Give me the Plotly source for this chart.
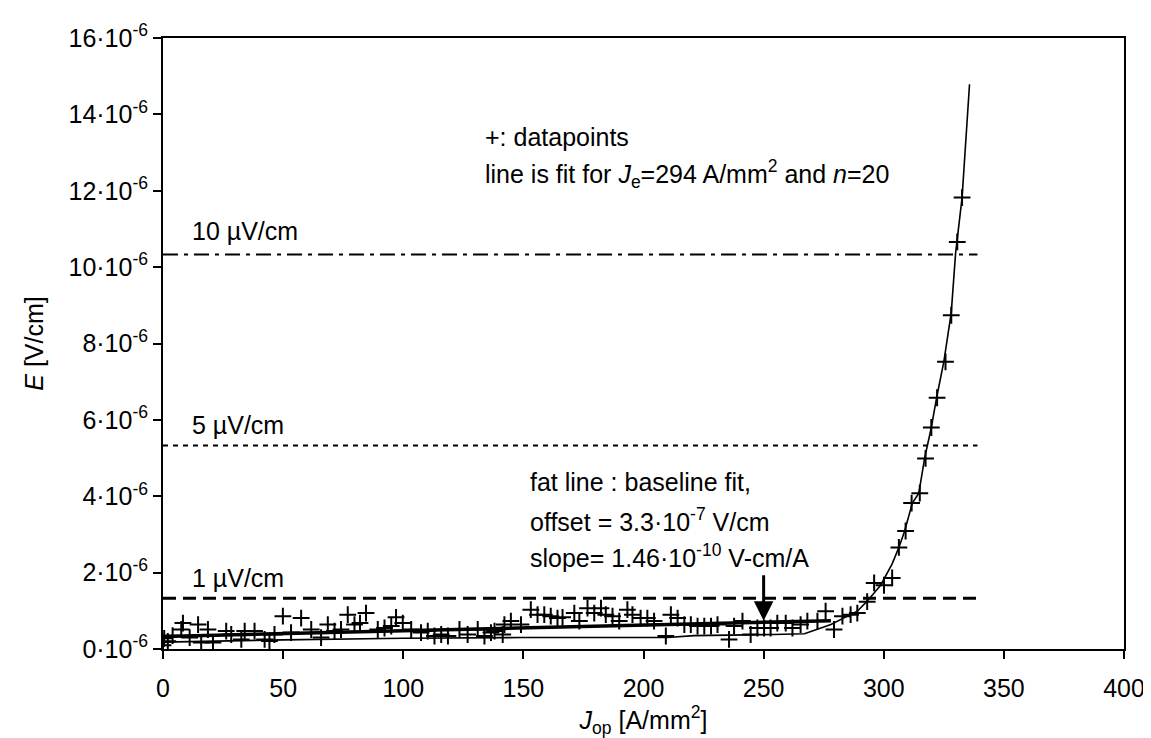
import plotly.graph_objects as go

# ---------------- data (E in units of 1e-6 V/cm, J in A/mm^2) ----------------
data_J = [0, 0.5, 2, 4, 7.6, 8.3, 11.1, 14.6, 15.9, 18.7, 20.8, 26.3, 28.4, 32.6, 34, 38.1,
          42.3, 44.3, 46.4, 49.9, 53.3, 57.5, 61.7, 65.8, 68.6, 71.4, 74.1, 76.9, 79.7, 82,
          84.5, 89.4, 92.2, 95.0, 97.0, 99.8, 103.3, 107.4, 110.2, 113, 115.8, 118.6, 123.4,
          126.8, 131, 133.8, 136.5, 138, 141.4, 142.1, 144.8, 149, 153.1, 155.9, 158.7, 161.4,
          164.2, 166.3, 171.2, 173.3, 176.7, 179.5, 182.3, 184.3, 187.1, 189.9, 193.3, 195.4,
          198.8, 201.6, 204.4, 209.3, 211.4, 214.2, 217, 219.7, 222.5, 225.3, 228.1, 230.8,
          235.6, 237.7, 241.2, 244.6, 247.4, 250.2, 252.9, 255.7, 259.2, 262, 265.4, 268.2,
          272.4, 275.8, 279.3, 282.8, 286.2, 289.0, 293.1, 296.0, 300.1, 303.5, 306.3, 309.1,
          311.6, 315.0, 317.4, 319.8, 322.2, 325.7, 328.1, 330.6, 332.6]
data_E = [0.10, 0.28, 0.20, 0.35, 0.51, 0.68, 0.30, 0.64, 0.17, 0.51, 0.17, 0.47, 0.38, 0.25, 0.47, 0.47,
          0.25, 0.21, 0.38, 0.86, 0.43, 0.81, 0.51, 0.30, 0.64, 0.47, 0.51, 0.90, 0.64, 0.68,
          0.94, 0.51, 0.55, 0.60, 0.83, 0.68, 0.51, 0.43, 0.47, 0.34, 0.38, 0.34, 0.51,
          0.38, 0.51, 0.34, 0.43, 0.47, 0.38, 0.64, 0.73, 0.64, 1.03, 0.90, 0.90, 0.86,
          0.81, 0.83, 0.94, 0.73, 1.07, 0.94, 1.07, 0.90, 0.86, 0.73, 1.03, 0.90,
          0.81, 0.81, 0.73, 0.34, 0.90, 0.81, 0.64, 0.64, 0.60, 0.60, 0.60, 0.64,
          0.25, 0.60, 0.73, 0.38, 0.55, 0.55, 0.55, 0.68, 0.68, 0.55, 0.64, 0.73,
          0.73, 0.99, 0.51, 0.86, 0.90, 0.94, 1.24, 1.73, 1.67, 1.86, 2.66, 3.09,
          3.82, 4.08, 4.99, 5.80, 6.58, 7.52, 8.74, 10.66, 11.82]

fit_J = [0, 50, 100, 150, 210, 221, 254, 267, 278, 282, 289, 292.9, 298.7, 303.5, 306.3, 308.7,
         311.9, 314.6, 317.0, 319.8, 322.0, 325.0, 328.1, 329.9, 332.6, 335.7]
fit_E = [0.18, 0.24, 0.28, 0.30, 0.30, 0.35, 0.38, 0.40, 0.64, 0.77, 0.99, 1.24, 1.67, 2.23, 2.66, 3.09,
         3.82, 4.08, 4.99, 5.80, 6.58, 7.52, 8.81, 10.36, 11.82, 14.79]

base_J = [0, 278]
base_E = [0.33, 0.74]

crit_J = [0, 339]
crit_levels = [1.33, 5.33, 10.33]
crit_labels = ["1 µV/cm", "5 µV/cm", "10 µV/cm"]

x_ticks = [0, 50, 100, 150, 200, 250, 300, 350, 400]
y_ticks = [0, 2, 4, 6, 8, 10, 12, 14, 16]
y_ticktext = [f"{v}·10<sup>-6</sup>" for v in y_ticks]

arrow_J = 250
arrow_from = 1.97
arrow_to = 0.74

FONT = "Liberation Sans, Arial, sans-serif"
FS = 25

fig = go.Figure()

# criterion lines
crit_styles = [("13px,7px", 3), ("5px,5px", 2), ("15px,6px,4px,6px", 2)]
for lvl, (dash, w) in zip(crit_levels, crit_styles):
    fig.add_trace(go.Scatter(x=crit_J, y=[lvl, lvl], mode="lines",
                             line=dict(color="black", width=w, dash=dash),
                             showlegend=False, hoverinfo="skip"))

# fit line
fig.add_trace(go.Scatter(x=fit_J, y=fit_E, mode="lines",
                         line=dict(color="black", width=1.6), showlegend=False))
# baseline fit (fat)
fig.add_trace(go.Scatter(x=base_J, y=base_E, mode="lines",
                         line=dict(color="black", width=3.5), showlegend=False))
# datapoints
fig.add_trace(go.Scatter(x=data_J, y=data_E, mode="markers",
                         marker=dict(symbol="cross-thin", size=12, color="black",
                                     line=dict(color="black", width=2)),
                         showlegend=False))

ann = []
def txt(x, y, s):
    ann.append(dict(x=x, y=y, xref="x", yref="y", text=s, showarrow=False,
                    xanchor="left", yanchor="middle",
                    font=dict(family=FONT, size=FS, color="black")))

txt(11.2, 10.95, crit_labels[2])
txt(11.2, 5.87, crit_labels[1])
txt(11.2, 1.85, crit_labels[0])
txt(133, 13.4, "+: datapoints")
txt(133, 12.43, "line is fit for <i>J</i><sub>e</sub>=294 A/mm<sup>2</sup> and <i>n</i>=20")
txt(152, 4.37, "fat line : baseline fit,")
txt(152, 3.39, "offset = 3.3·10<sup>-7</sup> V/cm")
txt(152, 2.44, "slope= 1.46·10<sup>-10</sup> V-cm/A")

ann.append(dict(x=arrow_J, y=arrow_to, ax=arrow_J, ay=arrow_from, xref="x", yref="y",
                axref="x", ayref="y", showarrow=True, arrowhead=2, arrowsize=1.3,
                arrowwidth=3, arrowcolor="black", text=""))

fig.update_layout(
    width=1151, height=738,
    margin=dict(l=155, r=35, t=21, b=97),
    paper_bgcolor="white", plot_bgcolor="white",
    font=dict(family=FONT, size=FS, color="black"),
    annotations=ann,
    showlegend=False,
)
fig.update_xaxes(range=[0, 400], tickvals=x_ticks, ticks="outside", ticklen=8, tickwidth=2,
                 tickcolor="black", showline=True, linecolor="black", linewidth=2, mirror=True,
                 showgrid=False, zeroline=False, ticklabelstandoff=8,
                 title=dict(text="<i>J</i><sub>op</sub> [A/mm<sup>2</sup>]", standoff=2,
                            font=dict(family=FONT, size=FS)),
                 tickfont=dict(family=FONT, size=FS))
fig.update_yaxes(range=[0, 16], tickvals=y_ticks, ticktext=y_ticktext, ticks="outside",
                 ticklen=8, tickwidth=2, tickcolor="black", showline=True, linecolor="black",
                 linewidth=2, mirror=True, showgrid=False, zeroline=False,
                 title=dict(text="<i>E</i> [V/cm]", standoff=18, font=dict(family=FONT, size=FS)),
                 tickfont=dict(family=FONT, size=FS))

fig.write_html("out.html")
